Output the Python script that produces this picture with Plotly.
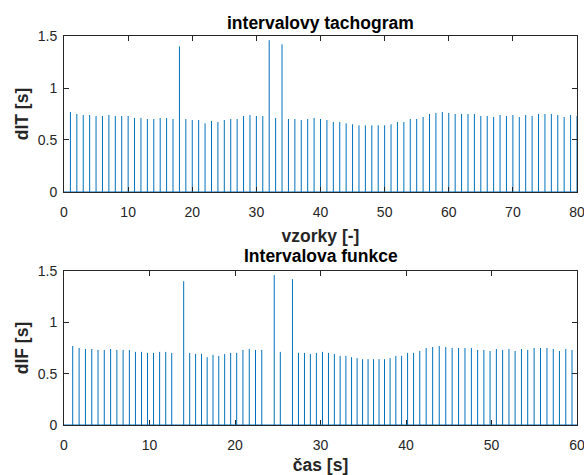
import plotly.graph_objects as go
from plotly.subplots import make_subplots

# R-R interval values (s), samples 1..80
dIT = [0.769, 0.75, 0.74, 0.74, 0.731, 0.731, 0.74, 0.731, 0.731, 0.731,
       0.712, 0.712, 0.702, 0.702, 0.712, 0.712, 0.702, 1.40, 0.702, 0.692,
       0.692, 0.66, 0.683, 0.673, 0.692, 0.702, 0.702, 0.731, 0.74, 0.731,
       0.731, 1.46, 0.712, 1.42, 0.702, 0.702, 0.692, 0.702, 0.712, 0.702,
       0.692, 0.673, 0.673, 0.66, 0.651, 0.641, 0.641, 0.641, 0.641, 0.641,
       0.651, 0.673, 0.673, 0.702, 0.702, 0.721, 0.75, 0.76, 0.769, 0.76,
       0.75, 0.75, 0.75, 0.75, 0.731, 0.731, 0.721, 0.74, 0.731, 0.74,
       0.721, 0.74, 0.731, 0.75, 0.75, 0.75, 0.74, 0.721, 0.74, 0.731]
samples = list(range(1, len(dIT) + 1))
first_beat = 0.25  # time of first beat (s)

times = []
acc = first_beat
for v in dIT:
    acc += v
    times.append(acc)

x_ticks_top = [0, 10, 20, 30, 40, 50, 60, 70, 80]
x_ticks_bot = [0, 10, 20, 30, 40, 50, 60]
y_ticks = [0, 0.5, 1, 1.5]
y_ticktext = ["0", "0.5", "1", "1.5"]

STEM = "#0072BD"
AX = "#262626"
FONT = "Liberation Sans, Arial, sans-serif"
LBL = 17.5


def stems(xs, ys):
    sx, sy = [], []
    for a, b in zip(xs, ys):
        sx += [a, a, None]
        sy += [0, b, None]
    return sx, sy


fig = make_subplots(rows=2, cols=1, vertical_spacing=0.0)

sx, sy = stems(samples, dIT)
fig.add_trace(go.Scatter(x=sx, y=sy, mode="lines", line=dict(color=STEM, width=1),
                         showlegend=False, hoverinfo="skip"), row=1, col=1)
sx2, sy2 = stems(times, dIT)
fig.add_trace(go.Scatter(x=sx2, y=sy2, mode="lines", line=dict(color=STEM, width=1),
                         showlegend=False, hoverinfo="skip"), row=2, col=1)

axis_common = dict(showgrid=False, zeroline=False, showline=True, linecolor=AX,
                   linewidth=1, mirror="ticks", ticks="inside", ticklen=5,
                   tickcolor=AX, tickfont=dict(family=FONT, size=14, color=AX),
                   automargin=False, ticklabeloverflow="allow")

fig.update_xaxes(ticklabelstandoff=7, **axis_common)
fig.update_yaxes(ticklabelstandoff=3, **axis_common)

fig.update_layout(
    xaxis=dict(domain=[0, 1], range=[0, 80], tickvals=x_ticks_top,
               title=dict(text="<b>vzorky [-]</b>", font=dict(family=FONT, size=LBL, color=AX), standoff=10)),
    yaxis=dict(domain=[0.599, 1], range=[0, 1.5], tickvals=y_ticks, ticktext=y_ticktext,
               title=dict(text="<b>dIT [s]</b>", font=dict(family=FONT, size=LBL, color=AX), standoff=4)),
    xaxis2=dict(domain=[0, 1], range=[0, 60], tickvals=x_ticks_bot,
                title=dict(text="<b>čas [s]</b>", font=dict(family=FONT, size=LBL, color=AX), standoff=10)),
    yaxis2=dict(domain=[0, 0.396], range=[0, 1.5], tickvals=y_ticks, ticktext=y_ticktext,
                title=dict(text="<b>dIF [s]</b>", font=dict(family=FONT, size=LBL, color=AX), standoff=4)),
)

fig.add_annotation(text="<b>intervalovy tachogram</b>", xref="x domain", yref="y domain",
                   x=0.5, y=1.0, yanchor="bottom", yshift=1, showarrow=False,
                   font=dict(family=FONT, size=LBL, color="black"))
fig.add_annotation(text="<b>Intervalova funkce</b>", xref="x2 domain", yref="y2 domain",
                   x=0.5, y=1.0, yanchor="bottom", yshift=3, showarrow=False,
                   font=dict(family=FONT, size=LBL, color="black"))

# stem baselines
fig.add_shape(type="line", xref="x domain", yref="y", x0=0, x1=1, y0=0, y1=0,
              line=dict(color=STEM, width=1))
fig.add_shape(type="line", xref="x2 domain", yref="y2", x0=0, x1=1, y0=0, y1=0,
              line=dict(color=STEM, width=1))

fig.update_layout(width=584, height=475, margin=dict(l=64, r=7, t=36, b=50),
                  paper_bgcolor="white", plot_bgcolor="white", showlegend=False)

fig.write_html("out.html")
